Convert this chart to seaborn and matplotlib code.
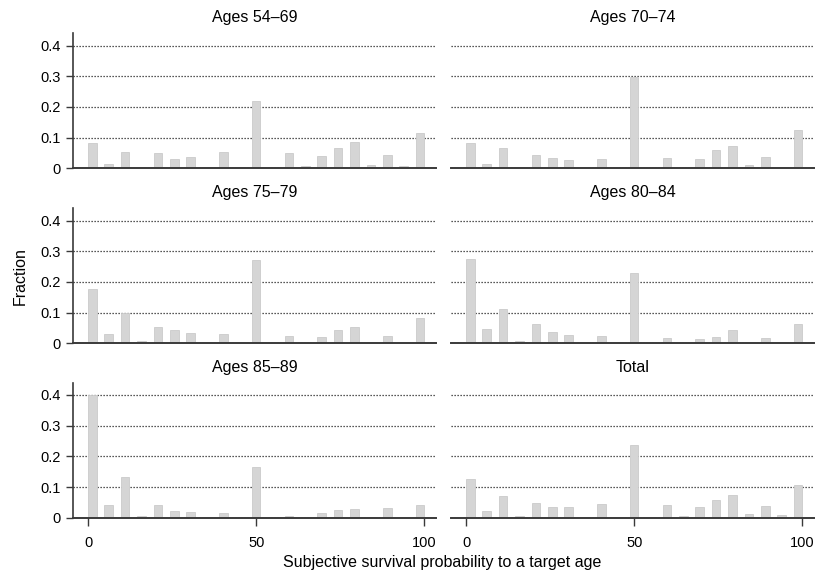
import matplotlib
matplotlib.use("Agg")
import matplotlib.pyplot as plt
import seaborn as sns
import pandas as pd

# survival probability categories (percent)
prob_bins = [0, 5, 10, 15, 20, 25, 30, 35, 40, 45, 50, 55, 60, 65, 70, 75, 80, 85, 90, 95, 100]

panel_titles = ["Ages 54\u201369", "Ages 70\u201374", "Ages 75\u201379",
                "Ages 80\u201384", "Ages 85\u201389", "Total"]

frac_54_69 = [0.084, 0.014, 0.053, 0.005, 0.049, 0.030, 0.037, 0.004, 0.053, 0.004, 0.220,
              0.002, 0.050, 0.008, 0.041, 0.067, 0.085, 0.010, 0.043, 0.008, 0.115]
frac_70_74 = [0.084, 0.014, 0.066, 0.005, 0.043, 0.032, 0.028, 0.004, 0.030, 0.001, 0.299,
              0.002, 0.034, 0.002, 0.030, 0.060, 0.074, 0.011, 0.037, 0.005, 0.125]
frac_75_79 = [0.177, 0.030, 0.100, 0.008, 0.053, 0.042, 0.034, 0.004, 0.031, 0.003, 0.272,
              0.002, 0.023, 0.002, 0.019, 0.042, 0.052, 0.004, 0.024, 0.004, 0.082]
frac_80_84 = [0.274, 0.046, 0.112, 0.009, 0.062, 0.038, 0.028, 0.004, 0.023, 0.003, 0.229,
              0.000, 0.018, 0.000, 0.015, 0.022, 0.043, 0.003, 0.017, 0.004, 0.064]
frac_85_89 = [0.400, 0.040, 0.133, 0.005, 0.042, 0.022, 0.017, 0.001, 0.016, 0.000, 0.164,
              0.000, 0.005, 0.000, 0.014, 0.025, 0.027, 0.003, 0.030, 0.003, 0.042]
frac_total = [0.126, 0.021, 0.070, 0.006, 0.049, 0.034, 0.034, 0.001, 0.044, 0.003, 0.237,
              0.001, 0.040, 0.006, 0.034, 0.057, 0.075, 0.012, 0.037, 0.008, 0.106]

all_fracs = [frac_54_69, frac_70_74, frac_75_79, frac_80_84, frac_85_89, frac_total]

sns.set_style("white")
plt.rcParams["font.family"] = ["Liberation Sans", "DejaVu Sans"]
plt.rcParams["text.color"] = "black"
plt.rcParams["xtick.labelcolor"] = "black"
plt.rcParams["ytick.labelcolor"] = "black"

fig = plt.figure(figsize=(8.19, 5.79), dpi=100)

col_left = [73 / 819, 451 / 819]
ax_w = 363 / 819
row_bottom = [(579 - 168.3) / 579, (579 - 343.3) / 579, (579 - 517.7) / 579]
ax_h = 135 / 579

spine_col = "#3a3a3a"

for i, (title, fr) in enumerate(zip(panel_titles, all_fracs)):
    r, c = divmod(i, 2)
    ax = fig.add_axes([col_left[c], row_bottom[r], ax_w, ax_h])
    # bars sit inside 0..100: bin k drawn centred at 1.25 + 0.975*p
    d = pd.DataFrame({"pos": [1.25 + 0.975 * p for p in prob_bins], "frac": fr})
    sns.barplot(data=d, x="pos", y="frac", ax=ax, native_scale=True, width=0.52,
                color="#d5d5d5", saturation=1, errorbar=None, linewidth=0.6,
                edgecolor="#cbcbcb")

    ax.set_xlim(-4.5, 103.5)
    ax.set_ylim(0, 0.44)
    ax.set_yticks([0, 0.1, 0.2, 0.3, 0.4])
    ax.set_xticks([0, 50, 100])
    ax.set_xlabel("")
    ax.set_ylabel("")
    ax.set_axisbelow(True)
    ax.yaxis.grid(True, linestyle=(0, (1, 1.4)), color="#222222", linewidth=0.9)
    ax.xaxis.grid(False)

    for s in ["top", "right"]:
        ax.spines[s].set_visible(False)
    ax.spines["bottom"].set_color(spine_col)
    ax.spines["bottom"].set_linewidth(1.4)
    ax.spines["bottom"].set_zorder(5)

    if c == 0:
        ax.spines["left"].set_color(spine_col)
        ax.spines["left"].set_linewidth(1.2)
        ax.set_yticklabels(["0", "0.1", "0.2", "0.3", "0.4"])
        ax.tick_params(axis="y", direction="out", length=5, width=1.0,
                       color=spine_col, labelsize=10.5, pad=4, left=True)
    else:
        ax.spines["left"].set_visible(False)
        ax.tick_params(axis="y", left=False, labelleft=False)

    if r == 2:
        ax.set_xticklabels(["0", "50", "100"])
        ax.tick_params(axis="x", direction="out", length=6, width=1.0,
                       color=spine_col, labelsize=10.5, pad=7, bottom=True)
    else:
        ax.tick_params(axis="x", bottom=False, labelbottom=False)

    ax.set_title(title, fontsize=11.5, pad=8, color="black")

fig.text(20 / 819, 1 - 276 / 579, "Fraction", rotation=90, fontsize=11.5,
         ha="center", va="center")
fig.text(442 / 819, 1 - 562 / 579, "Subjective survival probability to a target age",
         fontsize=11.5, ha="center", va="center")

fig.savefig("out.png", dpi=100)
